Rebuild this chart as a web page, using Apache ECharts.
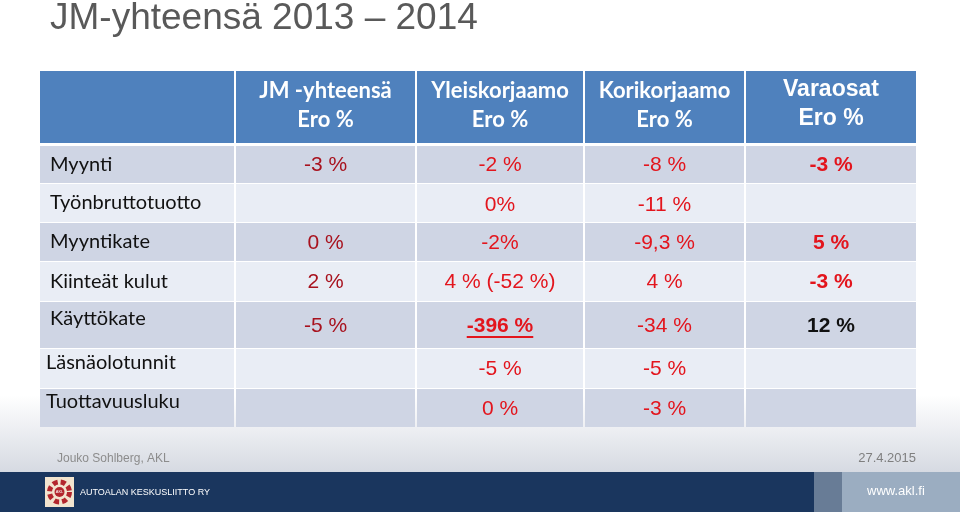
<!DOCTYPE html>
<html>
<head>
<meta charset="utf-8">
<script src="https://cdn.jsdelivr.net/npm/echarts@6/dist/echarts.min.js"></script>
<style>
    html, body { margin: 0; padding: 0; background: #fff; }
    #main { width: 960px; height: 512px; }
</style>
</head>
<body>
<div id="main"></div>
<script>
// taulukon sisältö
const titleText = 'JM-yhteensä 2013 – 2014';
const rowLabels = ['Myynti', 'Työnbruttotuotto', 'Myyntikate', 'Kiinteät kulut', 'Käyttökate', 'Läsnäolotunnit', 'Tuottavuusluku'];
const colHeaders = ['JM -yhteensä\nEro %', 'Yleiskorjaamo\nEro %', 'Korikorjaamo\nEro %', 'Varaosat\nEro %'];
const jmValues = ['-3 %', '', '0 %', '2 %', '-5 %', '', ''];
const yleisValues = ['-2 %', '0%', '-2%', '4 % (-52 %)', '-396 %', '-5 %', '0 %'];
const koriValues = ['-8 %', '-11 %', '-9,3 %', '4 %', '-34 %', '-5 %', '-3 %'];
const varaosatValues = ['-3 %', '', '5 %', '-3 %', '12 %', '', ''];
const footerLeft = 'Jouko Sohlberg, AKL';
const footerDate = '27.4.2015';

// asettelu (pikseleinä taulukon sisällä)
const colEdges = [0, 195, 376, 544, 705, 877];
const rowTops = [0, 75, 113, 152, 191, 231, 278, 318];
const rowBottoms = [72, 112, 151, 190, 230, 277, 317, 356];

const valueCols = [jmValues, yleisValues, koriValues, varaosatValues];
const ARIAL = '"Liberation Sans", Arial, sans-serif';
const CALIBRI = 'Lato, "Noto Sans", sans-serif';

function textWidth(txt, font) {
    const ctx = document.createElement('canvas').getContext('2d');
    ctx.font = font;
    return ctx.measureText(txt).width;
}

const cells = [];
for (let r = 0; r < rowTops.length; r++) {
    for (let c = 0; c < colEdges.length - 1; c++) {
        cells.push([c, r]);
    }
}

function cellText(c, r) {
    if (r === 0) return c === 0 ? '' : colHeaders[c - 1];
    if (c === 0) return rowLabels[r - 1];
    return valueCols[c - 1][r - 1];
}

function renderItem(params, api) {
    const c = api.value(0);
    const r = api.value(1);
    const p0 = api.coord([colEdges[c], rowTops[r]]);
    const p1 = api.coord([colEdges[c + 1], rowBottoms[r]]);
    const x0 = p0[0] + (c > 0 ? 1 : 0);
    const w = p1[0] - x0 - 1;
    const h = p1[1] - p0[1];
    let fill;
    if (r === 0) fill = '#4f81bd';
    else fill = r % 2 === 1 ? '#cfd5e4' : '#e9edf5';
    const children = [{
        type: 'rect',
        shape: { x: x0, y: p0[1], width: w, height: h },
        style: { fill: fill }
    }];
    const txt = cellText(c, r);
    if (txt) {
        const cx = x0 + w / 2;
        const cy = p0[1] + h / 2;
        if (r === 0) {
            const vara = c === 4;
            children.push({
                type: 'text',
                style: {
                    text: txt, x: cx, y: cy + (vara ? -3 : -2),
                    fill: '#ffffff', align: 'center', verticalAlign: 'middle',
                    fontFamily: vara ? ARIAL : CALIBRI,
                    fontWeight: 'bold',
                    fontSize: vara ? 23 : 22, lineHeight: 29
                }
            });
        } else if (c === 0) {
            const late = r >= 5;
            children.push({
                type: 'text',
                style: {
                    text: txt, x: r >= 6 ? 46 : 50, y: cy + (late ? -6 : 0),
                    fill: '#111111', align: 'left', verticalAlign: 'middle',
                    fontFamily: CALIBRI, fontSize: 20
                }
            });
        } else {
            const bold = c === 4 || (c === 2 && r === 5);
            let color = c === 1 ? '#a8121e' : '#e3151d';
            if (c === 4 && r === 5) color = '#111111';
            const font = (bold ? 'bold ' : '') + '21px ' + ARIAL;
            const ty = cy + (r === 2 ? 2 : 1);
            children.push({
                type: 'text',
                style: {
                    text: txt, x: cx, y: ty, fill: color,
                    align: 'center', verticalAlign: 'middle',
                    fontFamily: ARIAL, fontWeight: bold ? 'bold' : 'normal', fontSize: 21
                }
            });
            if (c === 2 && r === 5) {
                const tw = textWidth(txt, font);
                children.push({
                    type: 'line',
                    shape: { x1: cx - tw / 2, y1: ty + 11, x2: cx + tw / 2, y2: ty + 11 },
                    style: { stroke: color, lineWidth: 2 }
                });
            }
        }
    }
    return { type: 'group', children: children };
}

const chart = echarts.init(document.getElementById('main'));
chart.setOption({
    animation: false,
    backgroundColor: '#ffffff',
    grid: { left: 40, top: 71, width: 877, height: 356 },
    xAxis: { type: 'value', min: 0, max: colEdges[colEdges.length - 1], show: false },
    yAxis: { type: 'value', min: 0, max: rowBottoms[rowBottoms.length - 1], inverse: true, show: false },
    graphic: [
        // alareunan liukuväri
        {
            type: 'rect', z: -10, silent: true,
            shape: { x: 0, y: 395, width: 960, height: 77 },
            style: {
                fill: new echarts.graphic.LinearGradient(0, 0, 0, 1, [
                    { offset: 0, color: '#ffffff' },
                    { offset: 1, color: '#d6dae2' }
                ])
            }
        },
        {
            type: 'text', left: 50, top: 0,
            style: { text: titleText, fill: '#595959', fontFamily: ARIAL, fontSize: 37 }
        },
        {
            type: 'text', left: 57, top: 453,
            style: { text: footerLeft, fill: '#8c8c8c', fontFamily: ARIAL, fontSize: 12 }
        },
        {
            type: 'text', right: 44, top: 452,
            style: { text: footerDate, fill: '#7f7f7f', fontFamily: ARIAL, fontSize: 13 }
        },
        // alapalkki
        { type: 'rect', shape: { x: 0, y: 472, width: 814, height: 40 }, style: { fill: '#1a365e' } },
        { type: 'rect', shape: { x: 814, y: 472, width: 28, height: 40 }, style: { fill: '#687c96' } },
        { type: 'rect', shape: { x: 842, y: 472, width: 118, height: 40 }, style: { fill: '#9badc1' } },
        {
            type: 'text', left: 867, top: 485,
            style: { text: 'www.akl.fi', fill: '#ffffff', fontFamily: ARIAL, fontSize: 13 }
        },
        {
            type: 'text', left: 80, top: 488,
            style: { text: 'AUTOALAN KESKUSLIITTO RY', fill: '#ffffff', fontFamily: ARIAL, fontSize: 9 }
        },
        // logo
        { type: 'rect', shape: { x: 45, y: 477, width: 29, height: 30 }, style: { fill: '#f2e4cf' } },
        {
            type: 'circle', shape: { cx: 59.5, cy: 492, r: 10 },
            style: { fill: 'none', stroke: '#b3262d', lineWidth: 5, lineDash: [5, 3] }
        },
        { type: 'circle', shape: { cx: 59.5, cy: 492, r: 5 }, style: { fill: '#b3262d' } },
        {
            type: 'text', x: 59.5, y: 492,
            style: { text: 'AKL', fill: '#ffffff', fontFamily: ARIAL, fontSize: 4, align: 'center', verticalAlign: 'middle' }
        }
    ],
    series: [{
        type: 'custom',
        renderItem: renderItem,
        data: cells,
        silent: true
    }]
});
</script>
</body>
</html>
